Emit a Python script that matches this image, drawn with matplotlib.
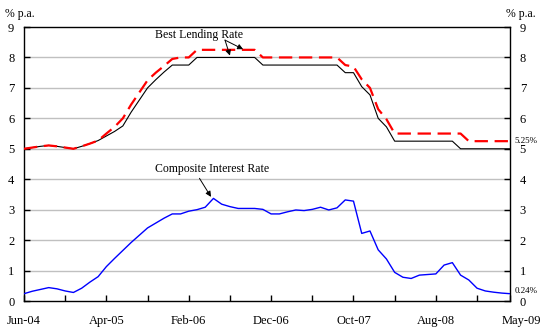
import matplotlib
matplotlib.use("Agg")
import matplotlib.pyplot as plt
import matplotlib.transforms as mtransforms
import numpy as np

# Monthly observations, Jun-2004 .. May-2009
blr_upper = [5.00, 5.04, 5.08, 5.11, 5.08, 5.04, 5.00, 5.08, 5.17, 5.27,
             5.50, 5.72, 6.00, 6.45, 6.85, 7.25, 7.50, 7.72, 7.95, 8.00,
             8.00, 8.25, 8.25, 8.25, 8.25, 8.25, 8.25, 8.25, 8.25, 8.00,
             8.00, 8.00, 8.00, 8.00, 8.00, 8.00, 8.00, 8.00, 8.00, 7.75,
             7.70, 7.28, 7.00, 6.30, 5.97, 5.50, 5.50, 5.50, 5.50, 5.50,
             5.50, 5.50, 5.50, 5.50, 5.25, 5.25, 5.25, 5.25, 5.25, 5.25]

blr_lower = [5.00, 5.04, 5.08, 5.11, 5.08, 5.04, 5.00, 5.08, 5.17, 5.27,
             5.42, 5.57, 5.75, 6.20, 6.60, 7.00, 7.27, 7.52, 7.75, 7.75,
             7.75, 8.00, 8.00, 8.00, 8.00, 8.00, 8.00, 8.00, 8.00, 7.75,
             7.75, 7.75, 7.75, 7.75, 7.75, 7.75, 7.75, 7.75, 7.75, 7.50,
             7.50, 7.04, 6.77, 6.00, 5.72, 5.25, 5.25, 5.25, 5.25, 5.25,
             5.25, 5.25, 5.25, 5.00, 5.00, 5.00, 5.00, 5.00, 5.00, 5.00]

composite = [0.24, 0.32, 0.38, 0.44, 0.40, 0.33, 0.28, 0.42, 0.62, 0.80,
             1.13, 1.40, 1.66, 1.92, 2.16, 2.40, 2.56, 2.72, 2.86, 2.86,
             2.95, 3.00, 3.08, 3.37, 3.18, 3.10, 3.04, 3.04, 3.04, 3.01,
             2.86, 2.86, 2.93, 2.99, 2.97, 3.01, 3.08, 2.99, 3.06, 3.32,
             3.28, 2.22, 2.30, 1.68, 1.38, 0.94, 0.78, 0.74, 0.85, 0.87,
             0.89, 1.18, 1.26, 0.85, 0.69, 0.42, 0.33, 0.29, 0.26, 0.24]

tick_labels = ["Jun-04", "Apr-05", "Feb-06", "Dec-06", "Oct-07", "Aug-08", "May-09"]

plt.rcParams["font.family"] = ["Liberation Serif", "DejaVu Serif"]

x = np.arange(len(composite))
last = len(composite) - 1

fig = plt.figure(figsize=(5.51, 3.36), dpi=100)
ax = fig.add_axes([24 / 551, 35 / 336, 486 / 551, 274 / 336])

ax.set_xlim(0, last)
ax.set_ylim(0, 9)

# horizontal grid
for v in range(1, 9):
    ax.axhline(v, color="#c0c0c0", lw=1.0, zorder=1)

ax.plot(x, blr_lower, color="black", lw=0.8, zorder=3)
ax.plot(x, blr_upper, color="#ff0000", lw=1.6, dashes=(6, 3), zorder=4)
ax.plot(x, composite, color="#0000ff", lw=1.0, zorder=3)

for s in ax.spines.values():
    s.set_color("black")
    s.set_linewidth(1.0)

# y axis on both sides
ax.set_yticks(range(0, 10))
ax.tick_params(axis="y", which="both", direction="in", length=4, width=1,
               labelsize=9, left=True, right=True, labelleft=True,
               labelright=True)
ax.tick_params(axis="y", which="both", pad=7)

# x axis: ticks every five months, labels every ten
minor_pos = list(range(0, last, 5)) + [last]
major_pos = list(range(0, last, 10)) + [last]
ax.set_xticks(minor_pos, minor=True)
ax.set_xticks(major_pos)
ax.set_xticklabels(tick_labels)
ax.tick_params(axis="x", which="both", direction="in", length=4, width=1,
               labelsize=9, pad=10)
ax.tick_params(axis="x", which="minor", labelbottom=False)
shift = mtransforms.ScaledTranslation(11 / 100, 0, fig.dpi_scale_trans)
lbl = ax.get_xticklabels()[-1]
lbl.set_transform(lbl.get_transform() + shift)

# axis unit labels
fig.text(5 / 551, 1 - 14 / 336, "% p.a.", fontsize=8.5, va="center", ha="left")
fig.text(536 / 551, 1 - 14 / 336, "% p.a.", fontsize=8.5, va="center", ha="right")

# end-point values
ax.annotate(f"{blr_upper[-1]:.2f}%", xy=(last, blr_upper[-1]), xytext=(3, 0),
            textcoords="offset points", fontsize=6.5, va="center", ha="left",
            annotation_clip=False)
ax.annotate(f"{composite[-1]:.2f}%", xy=(last, composite[-1]), xytext=(3, 2),
            textcoords="offset points", fontsize=6.5, va="center", ha="left",
            annotation_clip=False)

# series labels with pointers
ax.text(21.2, 8.74, "Best Lending Rate", fontsize=8.5, ha="center", va="center",
        zorder=6)
arrow = dict(arrowstyle="-|>", color="black", lw=0.7, mutation_scale=8,
             shrinkA=0, shrinkB=0)
ax.annotate("", xy=(26.6, 8.27), xytext=(24.4, 8.57), arrowprops=arrow, zorder=6)
ax.annotate("", xy=(25.0, 8.06), xytext=(24.4, 8.57), arrowprops=arrow, zorder=6)

ax.text(22.8, 4.35, "Composite Interest Rate", fontsize=8.5, ha="center",
        va="center", zorder=6)
ax.annotate("", xy=(22.7, 3.42), xytext=(21.3, 4.03), arrowprops=arrow, zorder=6)

fig.savefig("out.png", dpi=100)
